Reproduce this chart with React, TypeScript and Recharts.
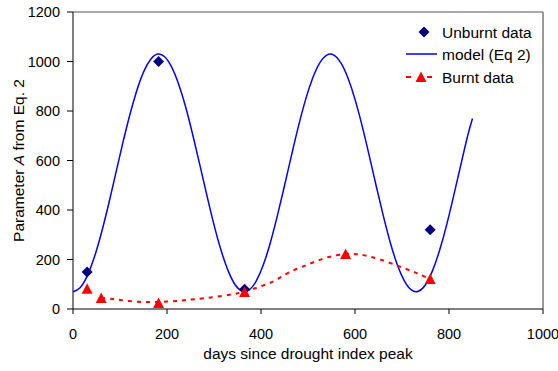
import React from 'react';
import { ComposedChart, XAxis, YAxis, Line, Scatter, Legend, ReferenceLine, Label } from 'recharts';

const xTicks = [0, 200, 400, 600, 800, 1000];
const yTicks = [0, 200, 400, 600, 800, 1000, 1200];

const modelDays = [0, 15, 30, 45, 60, 75, 90, 105, 120, 135, 150, 165, 180, 195, 210, 225, 240, 255, 270, 285, 300, 315, 330, 345, 360, 375, 390, 405, 420, 435, 450, 465, 480, 495, 510, 525, 540, 555, 570, 585, 600, 615, 630, 645, 660, 675, 690, 705, 720, 735, 750, 765, 780, 795, 810, 825, 840, 850];
const modelValues = [70, 86, 133, 207, 304, 417, 540, 663, 778, 878, 957, 1008, 1030, 1019, 977, 907, 814, 702, 581, 458, 340, 237, 155, 98, 72, 77, 114, 179, 269, 378, 498, 622, 741, 847, 933, 994, 1026, 1026, 994, 933, 847, 741, 622, 498, 378, 269, 179, 114, 77, 72, 98, 155, 237, 340, 458, 581, 702, 770];

const unburntDays = [30, 182, 365, 760];
const unburntValues = [150, 1000, 80, 320];

const burntDays = [30, 60, 182, 365, 580, 760];
const burntValues = [82, 44, 24, 69, 222, 121];

const burntFitDays = [60, 85, 110, 140, 170, 200, 230, 260, 300, 340, 365, 400, 430, 460, 500, 540, 580, 610, 650, 700, 730, 760];
const burntFitValues = [45, 40, 34, 29, 28, 30, 34, 40, 48, 60, 70, 92, 115, 148, 180, 208, 222, 220, 202, 168, 146, 121];

const modelData = modelDays.map((d, i) => ({ x: d, y: modelValues[i] }));
const unburntData = unburntDays.map((d, i) => ({ x: d, y: unburntValues[i] }));
const burntData = burntDays.map((d, i) => ({ x: d, y: burntValues[i] }));
const burntFitData = burntFitDays.map((d, i) => ({ x: d, y: burntFitValues[i] }));

const FONT = '"Liberation Sans", Arial, sans-serif';

const Diamond = (props: any) => {
  const { cx, cy } = props;
  const r = 5.5;
  return <polygon points={`${cx},${cy - r} ${cx + r},${cy} ${cx},${cy + r} ${cx - r},${cy}`} fill="#000080" />;
};

const Triangle = (props: any) => {
  const { cx, cy } = props;
  return <polygon points={`${cx},${cy - 5.5} ${cx + 5.5},${cy + 5} ${cx - 5.5},${cy + 5}`} fill="#FF0000" />;
};

const renderLegend = () => (
  <svg width={150} height={72} style={{ display: 'block' }}>
    <polygon points="24,6.5 29.5,12 24,17.5 18.5,12" fill="#000080" />
    <text x={42} y={12} dominantBaseline="central" fontFamily={FONT} fontSize={15.5} fill="#000">Unburnt data</text>
    <line x1={6} y1={34} x2={37} y2={34} stroke="#0000FF" strokeWidth={1.5} />
    <text x={42} y={34} dominantBaseline="central" fontFamily={FONT} fontSize={15.5} fill="#000">model (Eq 2)</text>
    <line x1={6} y1={57} x2={11} y2={57} stroke="#FF0000" strokeWidth={2} />
    <line x1={27} y1={57} x2={32} y2={57} stroke="#FF0000" strokeWidth={2} />
    <polygon points="21,51.5 26.5,62 15.5,62" fill="#FF0000" />
    <text x={42} y={57} dominantBaseline="central" fontFamily={FONT} fontSize={15.5} fill="#000">Burnt data</text>
  </svg>
);

const XTitle = (props: any) => {
  const vb = props.viewBox || {};
  return (
    <text x={vb.x + vb.width / 2} y={359} textAnchor="middle" fontFamily={FONT} fontSize={15.5} fill="#000">
      days since drought index peak
    </text>
  );
};

const YTitle = (props: any) => {
  const vb = props.viewBox || {};
  const cy = vb.y + vb.height / 2;
  return (
    <text x={24} y={cy} transform={`rotate(-90, 24, ${cy})`} textAnchor="middle" fontFamily={FONT} fontSize={15.5} fill="#000">
      Parameter <tspan fontStyle="italic">A</tspan> from Eq. 2
    </text>
  );
};

export default function App() {
  return (
    <div style={{ position: 'absolute', left: 0, top: 0, width: 558, height: 371, background: '#fff' }}>
      <ComposedChart width={558} height={371} margin={{ top: 12, right: 15, left: 0, bottom: 0 }}>
        <XAxis
          type="number"
          dataKey="x"
          domain={[0, 1000]}
          ticks={xTicks}
          interval={0}
          height={62}
          tickSize={5}
          tickMargin={15}
          axisLine={{ stroke: '#000', strokeWidth: 1 }}
          tickLine={{ stroke: '#000' }}
          tick={{ fill: '#000', fontSize: 14.5, fontFamily: FONT }}
          allowDataOverflow
        >
          <Label content={XTitle} />
        </XAxis>
        <YAxis
          type="number"
          dataKey="y"
          domain={[0, 1200]}
          ticks={yTicks}
          interval={0}
          width={73}
          tickSize={6}
          tickMargin={7}
          axisLine={{ stroke: '#000', strokeWidth: 1 }}
          tickLine={{ stroke: '#000' }}
          tick={{ fill: '#000', fontSize: 14.5, fontFamily: FONT }}
          allowDataOverflow
        >
          <Label content={YTitle} />
        </YAxis>
        <ReferenceLine y={1200} stroke="#555" strokeWidth={1} />
        <ReferenceLine x={1000} stroke="#777" strokeWidth={1.5} />
        <Line data={modelData} dataKey="y" type="natural" stroke="#0000FF" strokeWidth={1.5} dot={false} isAnimationActive={false} />
        <Line data={burntFitData} dataKey="y" type="natural" stroke="#FF0000" strokeWidth={2} strokeDasharray="4 5" dot={false} isAnimationActive={false} />
        <Scatter data={unburntData} dataKey="y" shape={Diamond} isAnimationActive={false} />
        <Scatter data={burntData} dataKey="y" shape={Triangle} isAnimationActive={false} />
        <Legend
          layout="vertical"
          align="center"
          verticalAlign="middle"
          content={renderLegend}
          wrapperStyle={{ left: 400, top: 20, width: 150, height: 72 }}
        />
      </ComposedChart>
    </div>
  );
}
